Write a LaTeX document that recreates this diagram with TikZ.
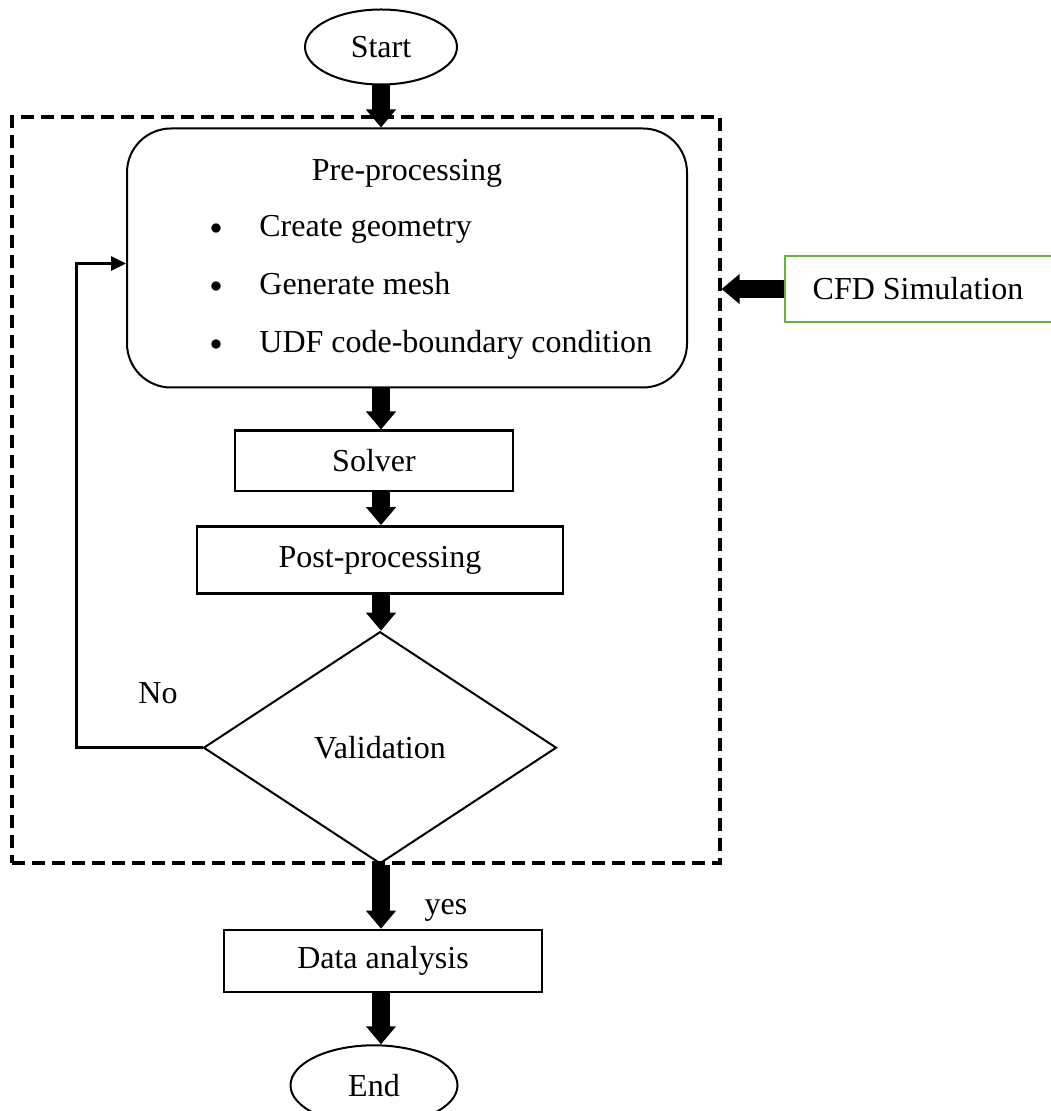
\documentclass[tikz,border=0pt]{standalone}
\usepackage{fontspec}
\setmainfont{Liberation Serif}
\usetikzlibrary{shapes.geometric, arrows.meta, positioning}
\definecolor{cfdgreen}{RGB}{112,173,71}

\begin{document}
\begin{tikzpicture}[
        x=0.5pt, y=-0.5pt,
        node distance=20pt,
        every node/.style={font=\fontsize{16}{19}\selectfont},
        terminal/.style={ellipse, draw, line width=1pt, minimum width=76pt, minimum height=37.5pt, inner sep=0pt},
        procbox/.style={rectangle, draw, line width=1.3pt, minimum height=30pt, inner sep=0pt},
        prebox/.style={rectangle, draw, rounded corners=22pt, line width=1pt, minimum width=280pt, minimum height=129.5pt},
        decision/.style={diamond, draw, line width=1pt, minimum width=176.5pt, minimum height=116pt, inner sep=0pt},
        cfdbox/.style={rectangle, draw=cfdgreen, line width=1pt, minimum width=133.5pt, minimum height=33pt},
        simframe/.style={rectangle, draw, dash pattern=on 6.5pt off 3.5pt, line width=1.6pt, minimum width=354pt, minimum height=373pt},
        lbl/.style={inner sep=0pt},
        dot/.style={inner sep=0pt, anchor=base, font=\fontsize{13}{15}\selectfont},
        bigarrow/.style={line width=9pt, -{Triangle[width=14.5pt,length=9pt]}},
        looparrow/.style={line width=1.5pt, -{Triangle[width=7pt,length=7.5pt]}}
    ]
        \useasboundingbox (0,0) rectangle (1050,1111);

        % Simulation frame
        \node[simframe] (sim) at (366,490) {};

        % Start
        \node[terminal] (start) at (381,47) {Start};

        % Pre-processing
        \node[prebox, below=21pt of start, xshift=13pt] (pre) {};
        \node[lbl, below=15.5pt of pre.north] (pretitle) {Pre-processing};
        \node[dot] (dot1) at (216,235) {$\bullet$};
        \node[dot] (dot2) at (216,293) {$\bullet$};
        \node[dot] (dot3) at (216,351) {$\bullet$};
        \node[lbl, anchor=base west] (item1) at (259,237) {Create geometry};
        \node[lbl, anchor=base west] (item2) at (259,295) {Generate mesh};
        \node[lbl, anchor=base west] (item3) at (259,353) {UDF code-boundary condition};

        % Solver and post-processing
        \node[procbox, minimum width=139pt, below=20.5pt of pre, xshift=-16.5pt] (solver) {Solver};
        \node[procbox, minimum width=183pt, minimum height=33.5pt, below=16.5pt of solver, xshift=3pt] (post) {Post-processing};

        % Validation
        \node[decision, below=18pt of post] (valid) {Validation};
        \node[lbl] (no) at (158,693) {No};
        \node[lbl] (yes) at (446,910) {yes};

        % Data analysis and end
        \node[procbox, minimum width=159pt, minimum height=31pt, below=32pt of valid, xshift=1.5pt] (data) {Data analysis};
        \node[terminal, minimum width=83.5pt, minimum height=40pt, below=25.5pt of data, xshift=-4.5pt] (stop) {End};

        % CFD Simulation
        \node[cfdbox] (cfd) at (918,289) {CFD Simulation};

        % Arrows
        \draw[bigarrow] (start.south) -- (start.south |- pre.north);
        \draw[bigarrow] (pre.south -| start) -- (solver.north -| start);
        \draw[bigarrow] (solver.south -| start) -- (post.north -| start);
        \draw[bigarrow] (post.south -| start) -- (valid.north -| start);
        \draw[bigarrow] (valid.south -| start) -- (data.north -| start);
        \draw[bigarrow] (data.south -| start) -- (stop.north -| start);
        \draw[bigarrow] (cfd.west) -- (cfd.west -| sim.east);
        \draw[looparrow] (valid.west) -- ++(-126,0) |- ([yshift=-2.75pt]pre.west);
    \end{tikzpicture}
\end{document}
